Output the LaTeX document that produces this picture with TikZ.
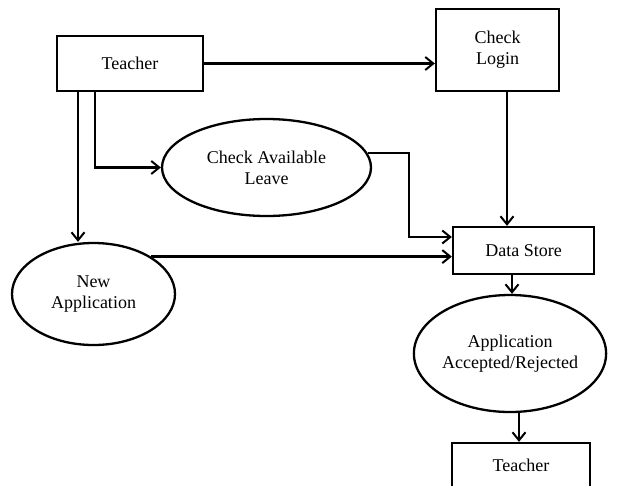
\documentclass[tikz,border=0pt]{standalone}
\usepackage{fontspec}
\setmainfont{Liberation Serif}
\usetikzlibrary{arrows.meta,shapes.geometric}
\begin{document}
\begin{tikzpicture}[x=1pt,y=-1pt,
  line width=2.3pt,
  every node/.style={font=\fontsize{18}{21}\selectfont, align=center, inner sep=0pt},
  boxnode/.style={draw, rectangle, minimum width=#1},
  ovalnode/.style={draw, ellipse},
  flow/.style={-{Straight Barb[length=8pt,width=13pt,line width=2pt]}}
]
\useasboundingbox (0,0) rectangle (617,485);

% processes and stores
\node[boxnode=146pt, minimum height=55pt] (t1) at (130,63.5) {Teacher};
\node[boxnode=123pt, minimum height=82pt] (login) at (497.5,50) {Check\\Login};
\node[ovalnode, minimum width=209pt, minimum height=97pt] (cal) at (266.5,167.5) {Check Available\\Leave};
\node[boxnode=141pt, minimum height=47pt] (ds) at (523.5,250.5) {Data Store};
\node[ovalnode, minimum width=163pt, minimum height=102pt] (newapp) at (93.5,294) {New\\Application};
\node[ovalnode, minimum width=186pt, minimum height=117pt] (acc) at (510,353.5) {Application\\Accepted/Rejected};
\node[boxnode=138pt, minimum height=45pt] (t2) at (521,465.5) {Teacher};

\coordinate (bend) at (409,0);

% data flows
\draw[flow] (t1.east) -- (t1.east -| login.west);
\draw[flow] ([xshift=9.5pt]login.south) -- ([xshift=9.5pt]login.south |- ds.north);
\draw[flow] ([xshift=-35pt]t1.south) |- (cal.west);
\draw[flow] ([xshift=-52pt]t1.south) -- ([xshift=-52pt]t1.south |- newapp.north);
\draw[flow] (cal.8) -- (cal.8 -| bend) |- ([yshift=13.5pt]ds.west);
\draw[flow] (newapp.33.5) -- (newapp.33.5 -| ds.west);
\draw[flow] ([xshift=-11.5pt]ds.south) -- ([xshift=-11.5pt]ds.south |- acc.north);
\draw[flow] ([xshift=9pt]acc.south) -- ([xshift=9pt]acc.south |- t2.north);
\end{tikzpicture}
\end{document}
